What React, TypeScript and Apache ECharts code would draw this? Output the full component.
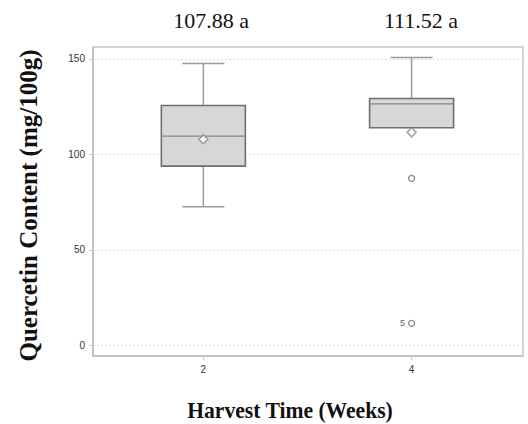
import React, { useEffect, useRef } from "react";
import * as echarts from "echarts";

const weeks = [2, 4];
// [lower whisker, Q1, median, Q3, upper whisker]
const boxStats = [
  [72.6, 93.8, 109.5, 125.6, 147.6],
  [113.9, 113.9, 126.4, 129.2, 150.7],
];
const means = [107.88, 111.52];
const meanLabels = ["107.88 a", "111.52 a"];
const outliers: [number, number, string][] = [
  [4, 87.4, ""],
  [4, 11.5, "5"],
];
const yTicks = [0, 50, 100, 150];
const yMin = -5.6;
const yMax = 156.2;
const xMin = 0.94;
const xMax = 5.07;

export default function App() {
  const ref = useRef<HTMLDivElement>(null);
  useEffect(() => {
    if (!ref.current) return;
    const chart = echarts.init(ref.current, undefined, { renderer: "svg" });
    const boxHalf = 42;
    const capHalf = 21;
    const whiskerColor = "#9a9a9a";
    const option: any = {
      animation: false,
      backgroundColor: "#ffffff",
      grid: {
        left: 93,
        top: 47,
        width: 430,
        height: 309,
        show: true,
        borderColor: "#c8c8c8",
        borderWidth: 1.5,
        containLabel: false,
      },
      xAxis: {
        type: "value",
        min: xMin,
        max: xMax,
        axisLine: { show: true, onZero: false, lineStyle: { color: "#bdbdbd", width: 1.5 } },
        axisTick: { show: true, length: 4, customValues: weeks, lineStyle: { color: "#c8c8c8" } },
        axisLabel: { fontSize: 10, color: "#333", margin: 8, customValues: weeks, fontFamily: "Liberation Sans" },
        splitLine: { show: false },
      },
      yAxis: {
        type: "value",
        min: yMin,
        max: yMax,
        axisLine: { show: true, onZero: false, lineStyle: { color: "#bdbdbd", width: 1.5 } },
        axisTick: { show: true, length: 4, customValues: yTicks, lineStyle: { color: "#c8c8c8" } },
        axisLabel: { fontSize: 10, color: "#333", margin: 8, customValues: yTicks, fontFamily: "Liberation Sans" },
        splitLine: { show: true, lineStyle: { color: "#dedede", type: [2, 2], width: 1 } },
      },
      graphic: [
        {
          type: "text",
          x: 28,
          y: 205.5,
          rotation: Math.PI / 2,
          style: {
            text: "Quercetin Content (mg/100g)",
            font: "bold 25px 'Liberation Serif'",
            fill: "#111",
            align: "center",
            verticalAlign: "middle",
          },
        },
        {
          type: "text",
          x: 290,
          y: 410,
          scaleX: 0.9,
          style: {
            text: "Harvest Time (Weeks)",
            font: "bold 24px 'Liberation Serif'",
            fill: "#111",
            align: "center",
            verticalAlign: "middle",
          },
        },
        ...meanLabels.map((t, i) => ({
          type: "text",
          x: i === 0 ? 211 : 421,
          y: 20,
          style: {
            text: t,
            font: "22px 'Liberation Serif'",
            fill: "#111",
            align: "center",
            verticalAlign: "middle",
          },
        })),
      ],
      series: [
        {
          type: "custom",
          data: boxStats.map((s, i) => [weeks[i], ...s]),
          encode: { x: 0, y: [1, 2, 3, 4, 5] },
          renderItem: (params: any, api: any) => {
            const x = api.value(0);
            const low = api.value(1);
            const q1 = api.value(2);
            const med = api.value(3);
            const q3 = api.value(4);
            const high = api.value(5);
            const pLow = api.coord([x, low]);
            const pQ1 = api.coord([x, q1]);
            const pMed = api.coord([x, med]);
            const pQ3 = api.coord([x, q3]);
            const pHigh = api.coord([x, high]);
            const cx = pQ1[0];
            const children: any[] = [];
            const wStyle = { stroke: whiskerColor, lineWidth: 1.5 };
            children.push({ type: "line", shape: { x1: cx, y1: pQ3[1], x2: cx, y2: pHigh[1] }, style: wStyle });
            children.push({ type: "line", shape: { x1: cx - capHalf, y1: pHigh[1], x2: cx + capHalf, y2: pHigh[1] }, style: wStyle });
            if (low < q1) {
              children.push({ type: "line", shape: { x1: cx, y1: pQ1[1], x2: cx, y2: pLow[1] }, style: wStyle });
              children.push({ type: "line", shape: { x1: cx - capHalf, y1: pLow[1], x2: cx + capHalf, y2: pLow[1] }, style: wStyle });
            }
            children.push({
              type: "rect",
              shape: { x: cx - boxHalf, y: pQ3[1], width: boxHalf * 2, height: pQ1[1] - pQ3[1] },
              style: { fill: "#d7d7d7", stroke: "#6f6f6f", lineWidth: 1.6 },
            });
            children.push({
              type: "line",
              shape: { x1: cx - boxHalf, y1: pMed[1], x2: cx + boxHalf, y2: pMed[1] },
              style: { stroke: "#858585", lineWidth: 1.3 },
            });
            return { type: "group", children };
          },
          z: 3,
        },
        {
          type: "scatter",
          data: means.map((m, i) => [weeks[i], m]),
          symbol: "diamond",
          symbolSize: 9,
          itemStyle: { color: "#ffffff", borderColor: "#8a8a8a", borderWidth: 1.5 },
          z: 5,
        },
        {
          type: "scatter",
          data: outliers.map((o) => ({
            value: [o[0], o[1]],
            label: {
              show: o[2] !== "",
              formatter: o[2],
              position: "left",
              distance: 3,
              fontSize: 9,
              color: "#333",
              fontFamily: "Liberation Sans",
            },
          })),
          symbol: "circle",
          symbolSize: 6,
          itemStyle: { color: "#ffffff", borderColor: "#6a6a6a", borderWidth: 1.3 },
          z: 5,
        },
      ],
    };
    chart.setOption(option);
    return () => chart.dispose();
  }, []);
  return (
    <div
      ref={ref}
      style={{ position: "fixed", left: 0, top: 0, width: 528, height: 424 }}
    />
  );
}
